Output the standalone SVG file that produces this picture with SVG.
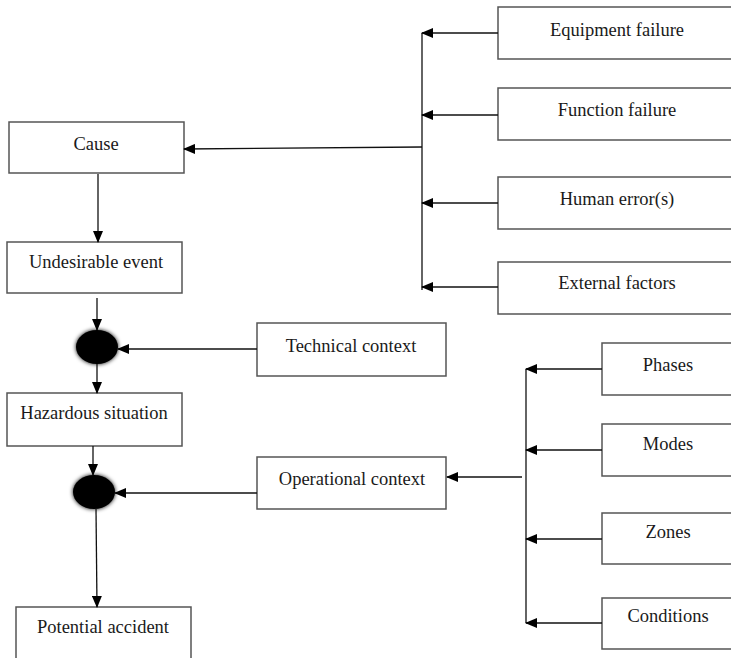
<svg xmlns="http://www.w3.org/2000/svg" width="731" height="658" viewBox="0 0 731 658">
  <style>
    .box { fill: #ffffff; stroke: #555555; stroke-width: 1.5; }
    .label { font-family: "Liberation Serif", "Times New Roman", serif; font-size: 18.5px; fill: #1a1a1a; text-anchor: middle; }
    .wire { fill: none; stroke: #111111; stroke-width: 1.3; }
    .arrow { fill: none; stroke: #111111; stroke-width: 1.3; marker-end: url(#head); }
    .junction { fill: #000000; filter: url(#soft); }
  </style>
  <defs>
    <marker id="head" markerUnits="userSpaceOnUse" markerWidth="12" markerHeight="10" viewBox="0 0 12 10" refX="11" refY="5" orient="auto">
      <path d="M0,0 L12,5 L0,10 Z" fill="#000000"/>
    </marker>
    <filter id="soft" x="-40%" y="-40%" width="180%" height="180%">
      <feGaussianBlur in="SourceAlpha" stdDeviation="2.2" result="glow"/>
      <feMerge>
        <feMergeNode in="glow"/>
        <feMergeNode in="SourceGraphic"/>
      </feMerge>
    </filter>
  </defs>

  <!-- main chain -->
  <g id="cause">
    <rect class="box" x="9" y="122" width="175" height="51"/>
    <text class="label" x="96" y="150">Cause</text>
  </g>
  <g id="undesirable-event">
    <rect class="box" x="7" y="242" width="175" height="51"/>
    <text class="label" x="96" y="268">Undesirable event</text>
  </g>
  <g id="junction-technical">
    <ellipse class="junction" cx="97" cy="347" rx="21" ry="17"/>
  </g>
  <g id="hazardous-situation">
    <rect class="box" x="7" y="393" width="175" height="53"/>
    <text class="label" x="94" y="419">Hazardous situation</text>
  </g>
  <g id="junction-operational">
    <ellipse class="junction" cx="94" cy="492" rx="21" ry="17"/>
  </g>
  <g id="potential-accident">
    <rect class="box" x="16" y="607" width="175" height="60"/>
    <text class="label" x="103" y="633">Potential accident</text>
  </g>

  <!-- contexts -->
  <g id="technical-context">
    <rect class="box" x="257" y="323" width="189" height="53"/>
    <text class="label" x="351" y="352">Technical context</text>
  </g>
  <g id="operational-context">
    <rect class="box" x="257" y="457" width="189" height="52"/>
    <text class="label" x="352" y="485">Operational context</text>
  </g>

  <!-- causes -->
  <g id="equipment-failure">
    <rect class="box" x="498" y="7" width="240" height="52"/>
    <text class="label" x="617" y="36">Equipment failure</text>
  </g>
  <g id="function-failure">
    <rect class="box" x="498" y="88" width="240" height="52"/>
    <text class="label" x="617" y="116">Function failure</text>
  </g>
  <g id="human-error">
    <rect class="box" x="498" y="177" width="240" height="52"/>
    <text class="label" x="617" y="205">Human error(s)</text>
  </g>
  <g id="external-factors">
    <rect class="box" x="498" y="262" width="240" height="52"/>
    <text class="label" x="617" y="289">External factors</text>
  </g>

  <!-- operational aspects -->
  <g id="phases">
    <rect class="box" x="602" y="343" width="140" height="52"/>
    <text class="label" x="668" y="371">Phases</text>
  </g>
  <g id="modes">
    <rect class="box" x="602" y="424" width="140" height="52"/>
    <text class="label" x="668" y="450">Modes</text>
  </g>
  <g id="zones">
    <rect class="box" x="602" y="513" width="140" height="51"/>
    <text class="label" x="668" y="538">Zones</text>
  </g>
  <g id="conditions">
    <rect class="box" x="602" y="598" width="140" height="51"/>
    <text class="label" x="668" y="622">Conditions</text>
  </g>

  <g id="connectors">
    <!-- cause bus -->
    <line class="wire" x1="422" y1="33" x2="422" y2="290"/>
    <line class="arrow" x1="498" y1="33" x2="422" y2="33"/>
    <line class="arrow" x1="498" y1="115" x2="422" y2="115"/>
    <line class="arrow" x1="498" y1="203" x2="422" y2="203"/>
    <line class="arrow" x1="498" y1="287" x2="422" y2="287"/>
    <line class="arrow" x1="422" y1="147" x2="184" y2="149"/>

    <!-- main chain -->
    <line class="arrow" x1="98" y1="174" x2="98" y2="242"/>
    <line class="arrow" x1="97" y1="298" x2="97" y2="330"/>
    <line class="arrow" x1="97" y1="364" x2="97" y2="393"/>
    <line class="arrow" x1="93" y1="446" x2="93" y2="475"/>
    <line class="arrow" x1="96" y1="509" x2="97" y2="607"/>

    <!-- contexts into junctions -->
    <line class="arrow" x1="257" y1="349" x2="118" y2="349"/>
    <line class="arrow" x1="257" y1="493" x2="115" y2="493"/>

    <!-- operational bus -->
    <line class="wire" x1="526" y1="369" x2="526" y2="623"/>
    <line class="arrow" x1="602" y1="369" x2="526" y2="369"/>
    <line class="arrow" x1="602" y1="450" x2="526" y2="450"/>
    <line class="arrow" x1="602" y1="539" x2="526" y2="539"/>
    <line class="arrow" x1="602" y1="623" x2="526" y2="623"/>
    <line class="arrow" x1="522" y1="477" x2="447" y2="477"/>
  </g>
</svg>
